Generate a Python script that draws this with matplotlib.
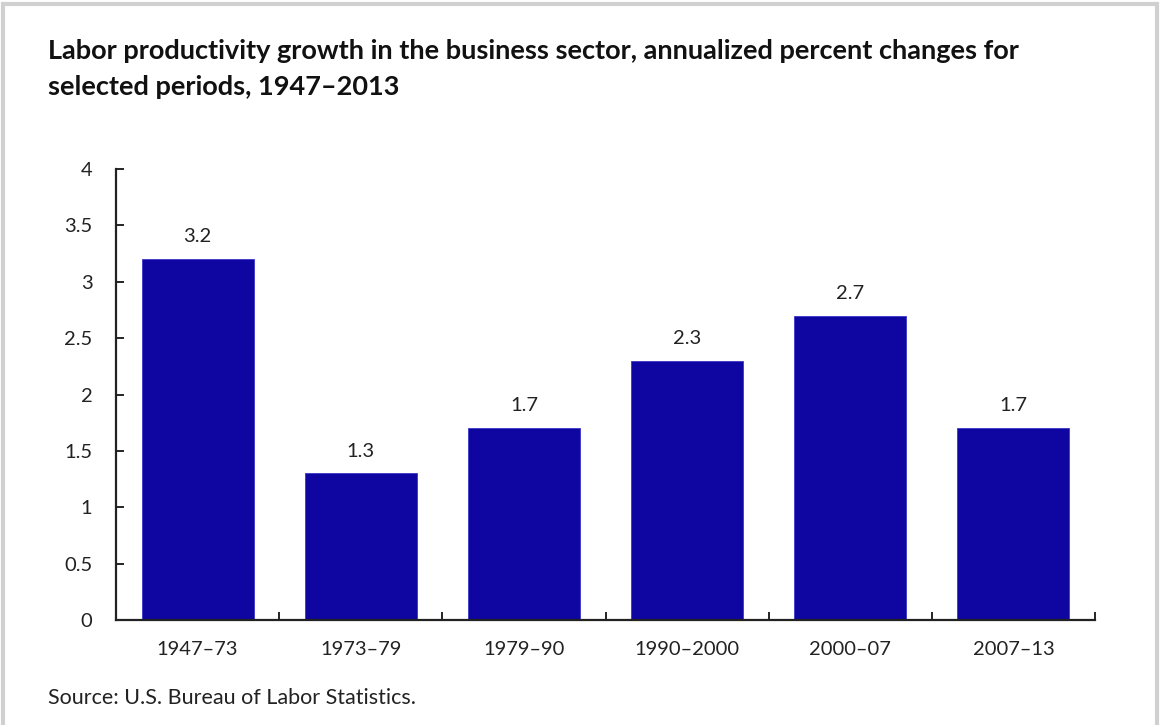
import matplotlib.pyplot as plt
from matplotlib.patches import Rectangle

periods = ["1947\u201373", "1973\u201379", "1979\u201390", "1990\u20132000", "2000\u201307", "2007\u201313"]
growth = [3.2, 1.3, 1.7, 2.3, 2.7, 1.7]
yticks = [0, 0.5, 1, 1.5, 2, 2.5, 3, 3.5, 4]
ytick_labels = ["0", "0.5", "1", "1.5", "2", "2.5", "3", "3.5", "4"]

plt.rcParams['font.family'] = ['Lato', 'DejaVu Sans']

W, H = 1161, 725
fig = plt.figure(figsize=(W / 100, H / 100), dpi=100)
ax = fig.add_axes([116 / W, 1 - 620 / H, (1095 - 116) / W, (620 - 169) / H])

x = list(range(len(periods)))
ax.bar(x, growth, width=0.687, color="#0F05A0", edgecolor="#3a36c8", linewidth=0.6)
for xi, v in zip(x, growth):
    ax.annotate("{:.1f}".format(v), (xi, v), xytext=(0, 10), textcoords="offset points",
                ha="center", va="bottom", fontsize=14.5, color="#222222")

ax.set_xlim(-0.5, len(periods) - 0.5)
ax.set_ylim(0, 4)
ax.set_yticks(yticks)
ax.set_yticklabels(ytick_labels, fontsize=14.5, color="#222222")
ax.tick_params(axis="y", direction="in", length=6, width=1.2, pad=17)

# category labels centered, tick marks between categories
ax.set_xticks(x)
ax.set_xticklabels(periods, fontsize=14.5, color="#222222")
ax.tick_params(axis="x", length=0, pad=15)
ax.set_xticks([i + 0.5 for i in x], minor=True)
ax.tick_params(axis="x", which="minor", direction="in", length=6, width=1.2)

for s in ["top", "right"]:
    ax.spines[s].set_visible(False)
for s in ["left", "bottom"]:
    ax.spines[s].set_linewidth(1.6)
    ax.spines[s].set_color("#222222")

fig.text(48 / W, 1 - 69 / H,
         "Labor productivity growth in the business sector, annualized percent changes for\nselected periods, 1947\u20132013",
         fontsize=19.5, fontweight="bold", ha="left", va="center", linespacing=1.6, color="#111111")
fig.text(48 / W, 1 - 698 / H, "Source: U.S. Bureau of Labor Statistics.", fontsize=15.5,
         ha="left", va="center", color="#222222")

fig.patches.append(Rectangle((3 / W, -0.01), (1157 - 3) / W, 1 - 4 / H + 0.01, transform=fig.transFigure,
                             fill=False, edgecolor="#d0d0d0", linewidth=3))

fig.savefig("out.png", dpi=100)
